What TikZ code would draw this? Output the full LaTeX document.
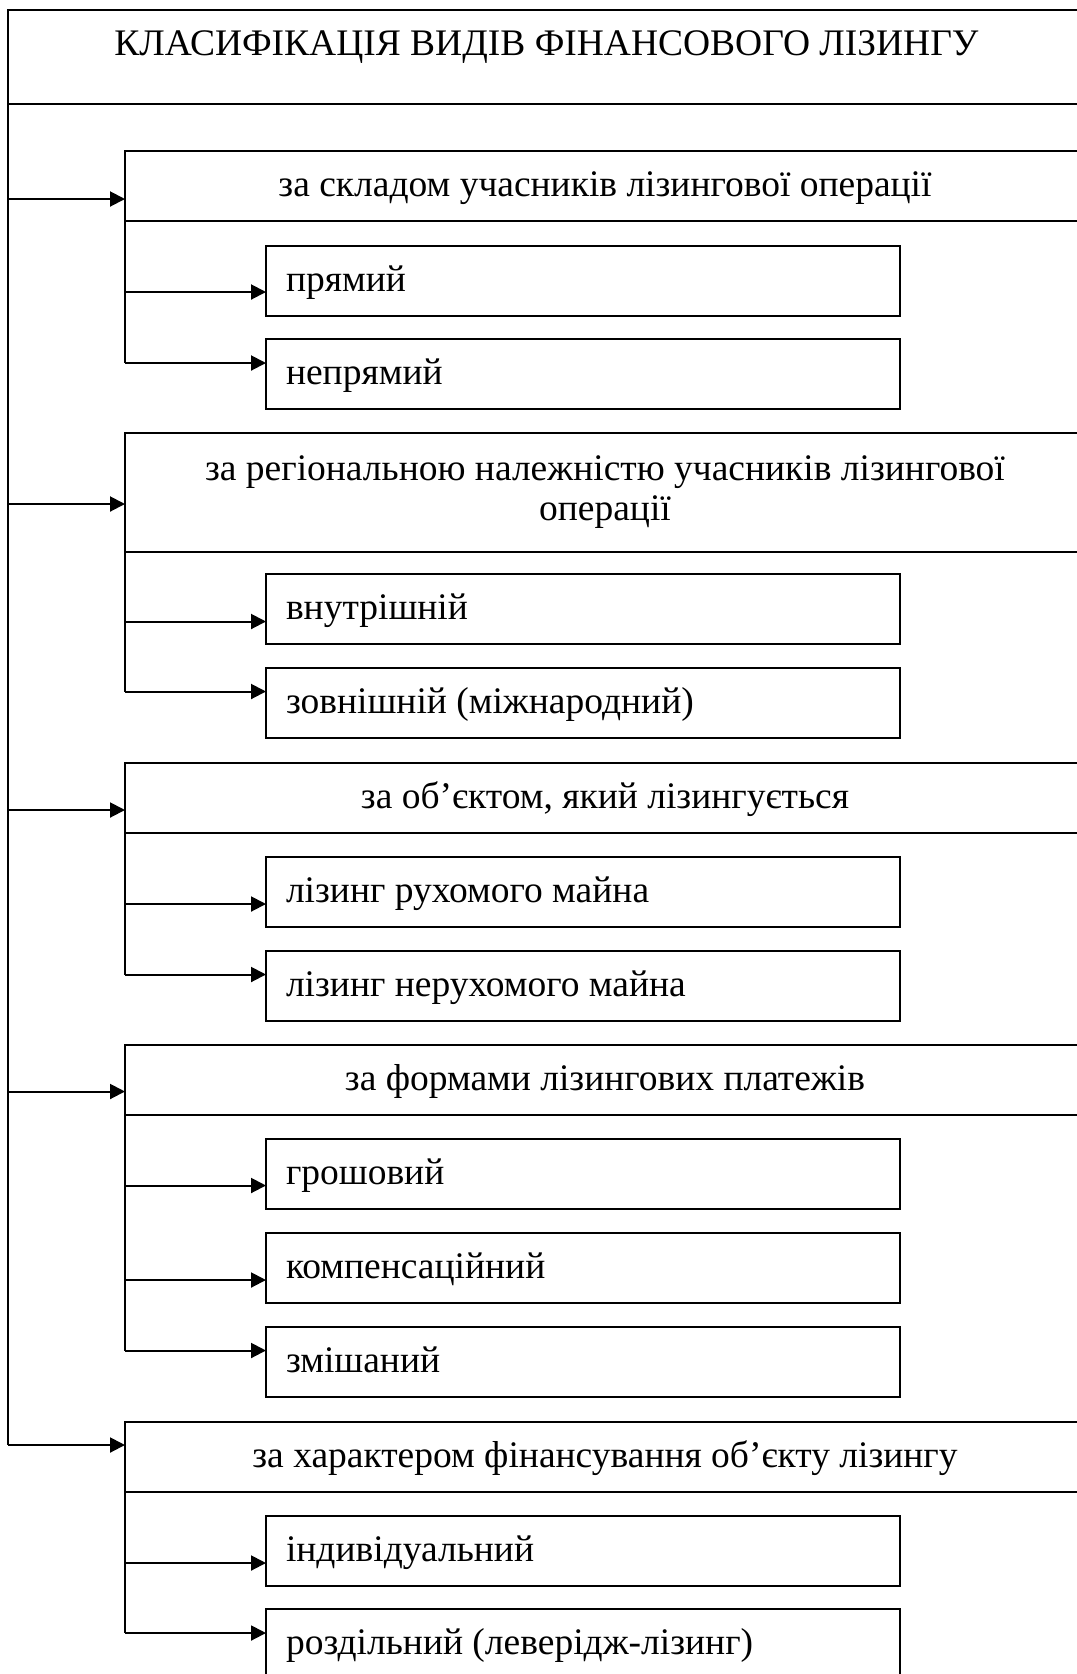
\documentclass[tikz,border=0pt]{standalone}
\usepackage{fontspec}
\setmainfont{Liberation Serif}
\usetikzlibrary{arrows.meta,calc}
\tikzset{
  box/.style={draw, line width=0.8pt, inner sep=0pt, outer sep=0pt, anchor=north west,
    font=\fontsize{15}{16}\selectfont},
  oneline/.style={text height=11pt, text depth=3pt},
  titlebox/.style={box, minimum width=430.8pt, minimum height=37.6pt,
    text height=10pt, text depth=11.6pt},
  catbox/.style={box, minimum width=384pt, minimum height=28pt},
  subbox/.style={box, oneline, minimum height=28pt, text width=237.6pt,
    inner xsep=8pt, align=flush left},
  arr/.style={line width=0.8pt, -{Triangle[length=6pt,width=6pt]}},
  link/.style={line width=0.8pt}
}
\begin{document}
\begin{tikzpicture}[x=0.4pt,y=-0.4pt]
\useasboundingbox (0,0) rectangle (1077,1674);
\clip (0,0) rectangle (1077,1674);
% head
\node[titlebox] (title) at (8,10) {КЛАСИФІКАЦІЯ ВИДІВ ФІНАНСОВОГО ЛІЗИНГУ};
% groups
\node[catbox,oneline] (c1) at (125,151) {за складом учасників лізингової операції};
\node[subbox] (s11) at (266,246) {прямий};
\node[subbox] (s12) at (266,339) {непрямий};
\node[catbox,minimum height=47.6pt,align=center] (c2) at (125,433)
  {за регіональною належністю учасників лізингової\\операції};
\node[subbox] (s21) at (266,574) {внутрішній};
\node[subbox] (s22) at (266,668) {зовнішній (міжнародний)};
\node[catbox,oneline] (c3) at (125,763) {за об’єктом, який лізингується};
\node[subbox] (s31) at (266,857) {лізинг рухомого майна};
\node[subbox] (s32) at (266,951) {лізинг нерухомого майна};
\node[catbox,oneline] (c4) at (125,1045) {за формами лізингових платежів};
\node[subbox] (s41) at (266,1139) {грошовий};
\node[subbox] (s42) at (266,1233) {компенсаційний};
\node[subbox] (s43) at (266,1327) {змішаний};
\node[catbox,oneline] (c5) at (125,1422) {за характером фінансування об’єкту лізингу};
\node[subbox] (s51) at (266,1516) {індивідуальний};
\node[subbox] (s52) at (266,1609) {роздільний (леверідж-лізинг)};
% trunk
\draw[link] (title.south west) -- ($(c5.west)+(-117,-12)$);
\foreach \c/\d in {c1/13,c2/11.5,c3/12,c4/11.5,c5/-12}
  \draw[arr] ($(\c.west)+(-117,\d)$) -- ($(\c.west)+(0,\d)$);
% branches
\foreach \c/\s/\d in {c1/s12/-11,c2/s22/-11.5,c3/s32/-11.5,c4/s43/-11.5,c5/s52/-11}
  \draw[link] (\c.south west) -- ($(\s.west)+(-141,\d)$);
\foreach \s/\d in {s11/11,s12/-11,s21/12.5,s22/-11.5,s31/12,s32/-11.5,
    s41/11.5,s42/12,s43/-11.5,s51/12,s52/-11}
  \draw[arr] ($(\s.west)+(-141,\d)$) -- ($(\s.west)+(0,\d)$);
\end{tikzpicture}
\end{document}
